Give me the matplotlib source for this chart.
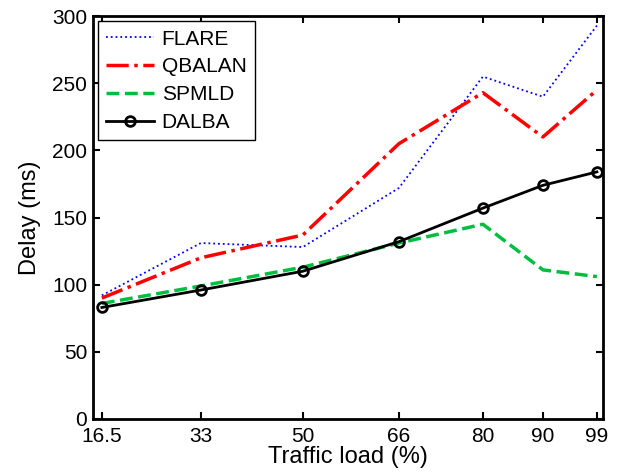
import matplotlib
matplotlib.use("Agg")
import matplotlib.pyplot as plt

plt.rcParams['font.family'] = ['Liberation Sans', 'DejaVu Sans']

load = [16.5, 33, 50, 66, 80, 90, 99]
flare = [92, 131, 128, 172, 255, 240, 293]
qbalan = [90, 120, 137, 205, 243, 210, 245]
spmld = [86, 99, 113, 131, 145, 111, 106]
dalba = [83, 96, 110, 132, 157, 174, 184]

fig = plt.figure(figsize=(6.19, 4.76), dpi=100)
ax = fig.add_axes([0.150, 0.120, 0.824, 0.846])

ax.plot(load, flare, color='blue', linestyle=':', linewidth=1.3, label='FLARE')
ax.plot(load, qbalan, color='red', linestyle='-.', linewidth=2.5, label='QBALAN')
ax.plot(load, spmld, color=(0, 0.75, 0.25), linestyle='--', linewidth=2.5, label='SPMLD')
ax.plot(load, dalba, color='black', linestyle='-', linewidth=2, marker='o',
        markersize=7, markerfacecolor='none', markeredgewidth=2, label='DALBA')

ax.set_xlim(15, 100)
ax.set_ylim(0, 300)
ax.set_xticks(load)
ax.set_xticklabels(['16.5', '33', '50', '66', '80', '90', '99'])
ax.set_yticks(range(0, 301, 50))
ax.tick_params(direction='in', top=True, right=True, labelsize=15, width=1.5, length=5)
ax.tick_params(axis='x', pad=6)
ax.tick_params(axis='y', pad=4)
for s in ax.spines.values():
    s.set_linewidth(2)

ax.set_xlabel('Traffic load (%)', fontsize=17, labelpad=0)
ax.set_ylabel('Delay (ms)', fontsize=17, labelpad=8)

leg = ax.legend(loc='upper left', fontsize=15, handlelength=2.3, fancybox=False,
                framealpha=1, borderaxespad=0.25, labelspacing=0.42, handletextpad=0.35,
                borderpad=0.4)
leg.get_frame().set_edgecolor('black')
leg.get_frame().set_linewidth(1)

fig.savefig('out.png', dpi=100)
